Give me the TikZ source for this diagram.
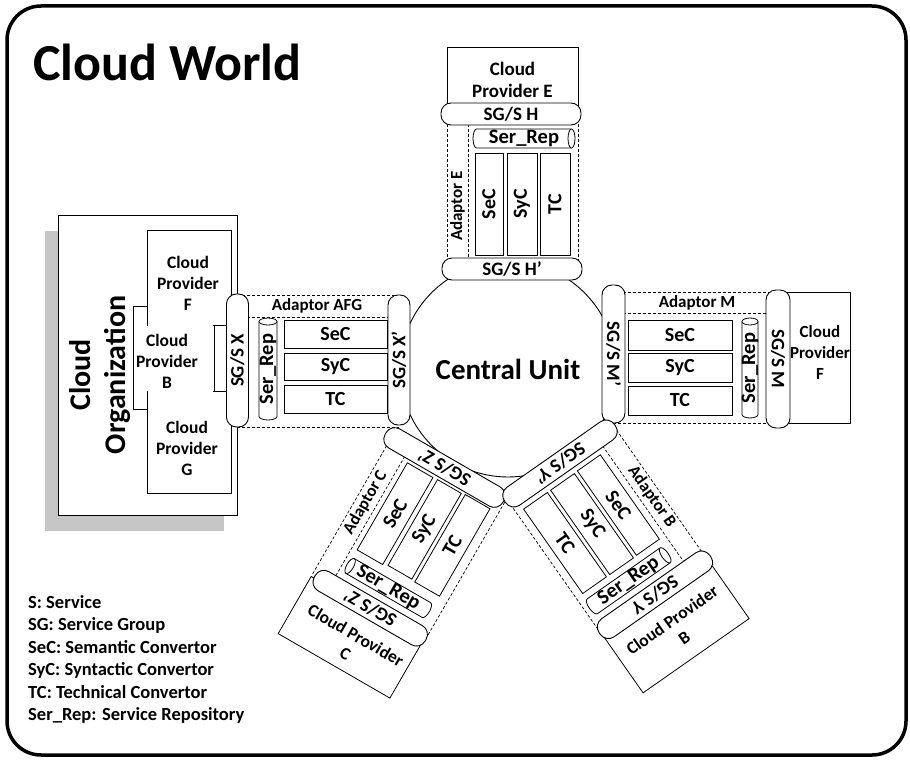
\documentclass[tikz,border=0pt]{standalone}
\usepackage{fontspec}
\setmainfont{Carlito}
\newcommand\serrep[6]{%
  \begin{scope}[shift={#2}, x=1pt, y=1pt, rotate=#3]
    \draw[cyl] ({-(#4)/2+3.5},{(#5)/2}) -- ({(#4)/2-3.5},{(#5)/2})
      arc[start angle=90, end angle=-90, x radius=3.5, y radius={(#5)/2}]
      -- ({-(#4)/2+3.5},{-(#5)/2})
      arc[start angle=270, end angle=90, x radius=3.5, y radius={(#5)/2}] -- cycle;
    \draw[cyl] ({(#4)/2-3.5},{(#5)/2}) arc[start angle=90, end angle=270, x radius=3.5, y radius={(#5)/2}];
  \end{scope}
  \node[srtext, rotate=#6] (#1) at #2 {Ser\_Rep};
}
\tikzset{
  frame/.style={line width=3.5pt, rounded corners=34pt},
  box/.style={draw, line width=0.8pt, fill=white, inner sep=0pt},
  lbl/.style={font=\fontsize{17.5}{21}\selectfont\bfseries, inner sep=0pt},
  lblE/.style={font=\fontsize{19}{22.5}\selectfont\bfseries, inner sep=0pt},
  adlbl/.style={font=\fontsize{17}{21}\selectfont\bfseries, inner sep=0pt},
  inner/.style={font=\fontsize{20}{23}\selectfont\bfseries},
  srtext/.style={font=\fontsize{20.5}{23}\selectfont\bfseries, inner sep=0pt},
  pill/.style={draw, fill=white, line width=0.9pt, rounded corners=10pt, minimum height=22pt, inner sep=0pt, font=\fontsize{19}{22}\selectfont\bfseries},
  dsh/.style={dash pattern=on 3pt off 2pt, line width=0.7pt},
  cyl/.style={line width=0.8pt, fill=white},
}
\begin{document}
\begin{tikzpicture}[x=1pt, y=-1pt]
\useasboundingbox (0,0) rectangle (910,760);
\draw[frame] (7,6) rectangle (906,755);
\node[anchor=west, font=\fontsize{52}{56}\selectfont\bfseries, inner sep=0pt] (title) at (33,62) {Cloud World};
\node[anchor=north west, align=left, inner sep=0pt, font=\fontsize{18.5}{22.5}\selectfont\bfseries] (legend) at (28,595)
 {S: Service\\SG: Service Group\\SeC: Semantic Convertor\\SyC: Syntactic Convertor\\TC: Technical Convertor\\Ser\_Rep: Service Repository};

% central unit
\node[circle, draw, line width=0.9pt, minimum size=216pt, inner sep=0pt, font=\fontsize{29}{32}\selectfont\bfseries] (cu) at (508,369) {Central Unit};

% ---------- branch E (top)
\node[box, lblE, align=center, minimum width=131pt, minimum height=66pt] (provE) at (512.5,80) {Cloud\\Provider E};
\draw[dsh] (447,114) -- (447,269) (578,114) -- (578,269) (468,114) -- (468,269);
\node[adlbl, rotate=90] (adE) at (457.5,206) {Adaptor E};
\serrep{srE}{(524,138.5)}{0}{102}{19}{0}
\node[box, inner, rotate=90, minimum width=102pt, minimum height=28pt] (secE) at (489,204) {SeC};
\node[box, inner, rotate=90, minimum width=102pt, minimum height=30pt] (sycE) at (522,204) {SyC};
\node[box, inner, rotate=90, minimum width=102pt, minimum height=30pt] (tcE) at (555,204) {TC};
\node[pill, minimum width=140pt] (pH) at (511,114) {SG/S H};
\node[pill, minimum width=140pt] (pH2) at (512,269) {SG/S H’};

% ---------- branch AFG (left)
\fill[gray!45] (45,231) rectangle (224,531);
\node[box, minimum width=179pt, minimum height=300pt] (org) at (147.5,365) {};
\node[rotate=90, align=center, inner sep=0pt, font=\fontsize{30}{35}\selectfont\bfseries] (orgt) at (100,375) {Cloud\\Organization};
\node[box, minimum width=84pt, minimum height=95pt] (boxF) at (189,277.5) {};
\node[box, minimum width=84pt, minimum height=102pt] (boxG) at (189,442) {};
\fill[white] (147.6,320) rectangle (213.4,396);
\draw[line width=0.8pt] (147,306) -- (133,306) -- (133,409) -- (147,409);
\draw[line width=0.8pt] (214,325) -- (214,391);
\node[lbl, align=center] (tF) at (188,283) {Cloud\\Provider\\F};
\node[lbl, align=center] (tB) at (167,361) {Cloud\\Provider\\B};
\node[lbl, align=center] (tG) at (187,448) {Cloud\\Provider\\G};
\draw[dsh] (237,295) -- (399,295) (237,427) -- (399,427) (237,317) -- (399,317);
\node[adlbl] (adA) at (317,306) {Adaptor AFG};
\node[box, inner, minimum width=103pt, minimum height=28pt] (secA) at (335.5,334) {SeC};
\node[box, inner, minimum width=103pt, minimum height=27pt] (sycA) at (335.5,366.5) {SyC};
\node[box, inner, minimum width=103pt, minimum height=28pt] (tcA) at (335.5,399) {TC};
\serrep{srA}{(268,369)}{90}{102}{18}{90}
\node[pill, rotate=90, minimum width=133pt] (pX) at (237.5,360.5) {SG/S X};
\node[pill, rotate=90, minimum width=130pt] (pX2) at (399,360) {SG/S X’};

% ---------- branch M (right)
\node[box, minimum width=72pt, minimum height=131pt] (provM) at (814,357.5) {};
\draw[dsh] (613,292) -- (778,292) (613,313) -- (778,313) (613,423) -- (778,423);
\node[adlbl] (adM) at (697,303) {Adaptor M};
\node[box, inner, minimum width=104pt, minimum height=30pt] (secM) at (680,335) {SeC};
\node[box, inner, minimum width=104pt, minimum height=29pt] (sycM) at (680,367.5) {SyC};
\node[box, inner, minimum width=104pt, minimum height=29pt] (tcM) at (680,400.5) {TC};
\serrep{srM}{(750,368)}{90}{100}{16}{90}
\node[pill, rotate=-90, minimum width=138pt, minimum height=23pt] (pM2) at (613.5,354) {SG/S M’};
\node[pill, rotate=-90, minimum width=138pt, minimum height=24pt] (pM) at (778,359) {SG/S M};
\node[lbl, align=center, font=\fontsize{17}{21}\selectfont\bfseries] (tFr) at (820,353) {Cloud\\Provider\\F};

% ---------- branch C (bottom left)
\begin{scope}[shift={(444.5,467.5)}, x=1pt, y=1pt, rotate=150, transform shape]
\node[box, rotate=180, minimum width=129pt, minimum height=66pt] (provC) at (-3.5,194) {};
\node[lbl, rotate=180, align=center] (tC) at (-7,200) {Cloud Provider\\C};
\draw[dsh] (61,0) -- (61,159) (-69.5,0) -- (-69.5,159) (40,0) -- (40,159);
\node[adlbl, rotate=-90] (adC) at (51,70) {Adaptor C};
\node[box, inner, rotate=-90, minimum width=100.5pt, minimum height=29.5pt] (secC) at (19.75,64.75) {SeC};
\node[box, inner, rotate=-90, minimum width=99pt, minimum height=27.5pt] (sycC) at (-13.75,63.5) {SyC};
\node[box, inner, rotate=-90, minimum width=101pt, minimum height=28.5pt] (tcC) at (-45.75,63.5) {TC};
\serrep{srC}{(-11.5,132.5)}{0}{95}{17}{180}
\node[pill, minimum width=128pt] (pZ) at (-6,159) {SG/S Z’};
\node[pill, minimum width=136pt] (pZ2) at (0,0) {SG/S Z’};
\end{scope}

% ---------- branch B (bottom right)
\begin{scope}[shift={(560,463.5)}, x=1pt, y=1pt, rotate=-145, transform shape]
\node[box, rotate=180, minimum width=129.5pt, minimum height=80.5pt] (provB) at (-1.25,195.25) {};
\node[lbl, rotate=180, align=center] (tBr) at (-2,203) {Cloud Provider\\B};
\draw[dsh] (-65.5,0) -- (-65.5,162) (64,0) -- (64,162) (-45,0) -- (-45,162);
\node[adlbl, rotate=90] (adB) at (-56,80) {Adaptor B};
\node[box, inner, rotate=90, minimum width=103pt, minimum height=28pt] (secB) at (-24,67.5) {SeC};
\node[box, inner, rotate=90, minimum width=103pt, minimum height=29pt] (sycB) at (8.5,68) {SyC};
\node[box, inner, rotate=90, minimum width=103pt, minimum height=29pt] (tcB) at (41.5,68) {TC};
\serrep{srB}{(11,135.5)}{180}{96}{18}{180}
\node[pill, minimum width=135pt] (pY) at (-2.5,162) {SG/S Y};
\node[pill, minimum width=134pt] (pY2) at (0,0) {SG/S Y’};
\end{scope}
\end{tikzpicture}
\end{document}
